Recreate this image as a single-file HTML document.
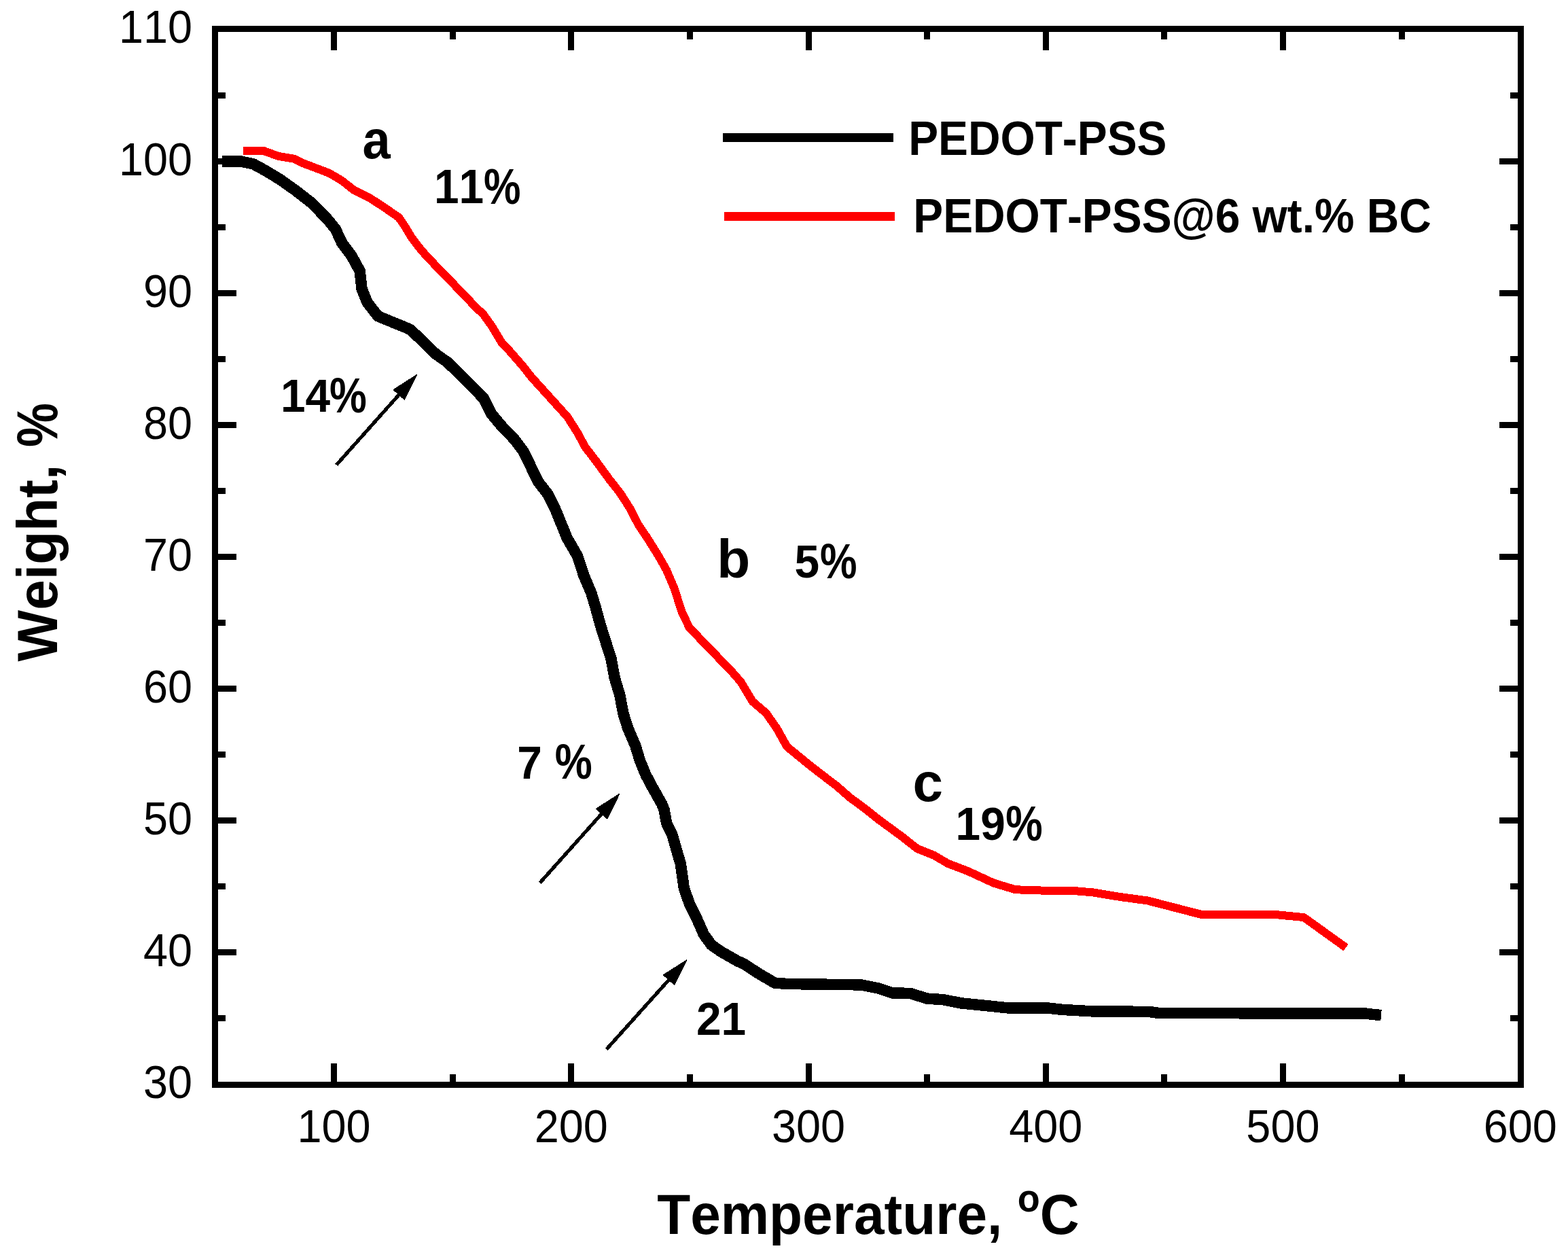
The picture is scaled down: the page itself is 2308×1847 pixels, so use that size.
<!DOCTYPE html><html><head><meta charset="utf-8"><title>TGA</title><style>html,body{margin:0;padding:0;background:#fff}svg{display:block}text{font-family:"Liberation Sans",sans-serif;font-kerning:none}</style></head><body>
<svg width="2308" height="1847" viewBox="0 0 2308 1847" shape-rendering="crispEdges">
<rect width="2308" height="1847" fill="#fff"/>
<polyline points="327.0,237.4 355.0,237.6 373.0,241.4 390.0,250.7 413.0,264.6 436.0,281.0 459.0,299.0 482.0,322.6 494.0,337.4 503.0,357.1 517.6,376.6 529.7,398.9 532.5,425.0 540.8,445.5 556.5,465.4 603.1,484.5 618.0,498.1 641.4,521.0 658.8,533.2 685.9,560.0 711.8,586.2 722.9,608.5 737.9,626.5 757.4,646.9 770.6,664.5 792.2,709.0 806.8,727.8 817.9,750.8 834.8,792.0 850.1,818.4 859.1,846.3 870.3,872.7 875.8,890.8 884.2,921.4 899.5,969.4 904.8,998.1 912.2,1022.4 917.3,1049.6 924.0,1071.1 932.3,1090.6 935.1,1096.9 942.1,1119.8 950.4,1140.0 958.1,1154.6 974.1,1183.1 977.6,1191.5 981.0,1211.0 989.4,1228.5 995.0,1248.0 1001.9,1271.7 1006.8,1307.1 1015.1,1330.8 1024.9,1350.3 1036.0,1375.3 1047.1,1390.6 1061.0,1400.3 1085.4,1414.3 1095.8,1419.1 1116.0,1432.3 1140.3,1446.6 1158.4,1448.0 1267.0,1449.4 1292.0,1454.3 1313.6,1461.5 1340.0,1461.9 1364.4,1469.6 1388.7,1471.2 1415.0,1476.4 1456.8,1480.6 1485.2,1483.6 1543.6,1483.7 1563.7,1485.9 1608.7,1488.4 1690.5,1488.9 1707.2,1491.1 2010.0,1491.5 2021.0,1493.0 2033.0,1494.0" fill="none" stroke="#000" stroke-width="16.5" stroke-linejoin="round" stroke-linecap="butt"/>
<polyline points="358.3,221.6 387.0,221.6 409.9,229.9 432.5,233.7 446.4,240.3 484.6,254.8 503.0,265.7 521.7,280.3 543.5,290.8 566.1,305.6 587.0,320.0 595.5,332.5 606.6,350.6 620.5,368.7 640.0,389.6 651.0,400.7 700.0,451.8 711.8,463.0 725.0,481.7 738.3,504.0 745.9,511.7 769.6,538.8 782.1,554.8 835.0,613.2 851.0,638.3 860.7,657.0 877.0,678.1 896.5,704.9 912.9,725.7 927.8,749.0 939.8,772.5 953.0,792.0 969.0,817.7 980.9,838.6 992.7,866.4 1003.8,901.2 1015.0,924.2 1033.0,942.6 1077.4,988.7 1090.4,1003.5 1107.8,1032.5 1127.8,1049.6 1143.5,1072.2 1158.3,1098.8 1194.5,1128.4 1232.1,1157.2 1250.0,1172.9 1275.3,1191.8 1291.9,1205.1 1326.5,1230.4 1349.9,1248.8 1375.0,1258.9 1395.1,1270.8 1425.0,1282.2 1462.6,1299.6 1492.5,1308.6 1510.6,1310.3 1580.8,1311.0 1608.6,1313.4 1649.0,1320.0 1689.3,1325.5 1767.9,1345.8 1877.5,1346.0 1919.2,1350.1 1981.1,1394.6" fill="none" stroke="#f00" stroke-width="12" stroke-linejoin="round" stroke-linecap="butt"/>
<rect x="316.5" y="42.5" width="1922" height="1554" fill="none" stroke="#000" stroke-width="9"/>
<path d="M491.5,1592V1565M491.5,47V74M666.1,1592V1581M666.1,47V58M840.7,1592V1565M840.7,47V74M1015.3,1592V1581M1015.3,47V58M1190.0,1592V1565M1190.0,47V74M1364.6,1592V1581M1364.6,47V58M1539.2,1592V1565M1539.2,47V74M1713.8,1592V1581M1713.8,47V58M1888.4,1592V1565M1888.4,47V74M2063.0,1592V1581M2063.0,47V58M321,1498.5H332M2234,1498.5H2223M321,1401.5H348M2234,1401.5H2207M321,1304.5H332M2234,1304.5H2223M321,1207.5H348M2234,1207.5H2207M321,1110.5H332M2234,1110.5H2223M321,1013.5H348M2234,1013.5H2207M321,916.5H332M2234,916.5H2223M321,819.5H348M2234,819.5H2207M321,722.5H332M2234,722.5H2223M321,625.5H348M2234,625.5H2207M321,528.5H332M2234,528.5H2223M321,431.5H348M2234,431.5H2207M321,334.5H332M2234,334.5H2223M321,237.5H348M2234,237.5H2207M321,140.5H332M2234,140.5H2223" stroke="#000" stroke-width="9" fill="none"/>
<text transform="translate(283.1 1616.4) scale(1 1.05)" font-size="64.8" text-anchor="end">30</text>
<text transform="translate(283.1 1422.3) scale(1 1.05)" font-size="64.8" text-anchor="end">40</text>
<text transform="translate(283.1 1228.2) scale(1 1.05)" font-size="64.8" text-anchor="end">50</text>
<text transform="translate(283.1 1034.0) scale(1 1.05)" font-size="64.8" text-anchor="end">60</text>
<text transform="translate(283.1 839.9) scale(1 1.05)" font-size="64.8" text-anchor="end">70</text>
<text transform="translate(283.1 645.8) scale(1 1.05)" font-size="64.8" text-anchor="end">80</text>
<text transform="translate(283.1 451.6) scale(1 1.05)" font-size="64.8" text-anchor="end">90</text>
<text transform="translate(283.1 257.5) scale(1 1.05)" font-size="64.8" text-anchor="end">100</text>
<text transform="translate(283.1 63.4) scale(1 1.05)" font-size="64.8" text-anchor="end">110</text>
<text transform="translate(491.5 1680.6) scale(1 1.05)" font-size="64.8" text-anchor="middle">100</text>
<text transform="translate(840.7 1680.6) scale(1 1.05)" font-size="64.8" text-anchor="middle">200</text>
<text transform="translate(1190.0 1680.6) scale(1 1.05)" font-size="64.8" text-anchor="middle">300</text>
<text transform="translate(1539.2 1680.6) scale(1 1.05)" font-size="64.8" text-anchor="middle">400</text>
<text transform="translate(1888.4 1680.6) scale(1 1.05)" font-size="64.8" text-anchor="middle">500</text>
<text transform="translate(2237.7 1680.6) scale(1 1.05)" font-size="64.8" text-anchor="middle">600</text>
<text transform="translate(967.2 1816) scale(1 1.051)" font-size="80.2" font-weight="bold">Temperature, <tspan x="530.6" y="-31.1" font-size="54">o</tspan><tspan x="563.5" y="0">C</tspan></text>
<text transform="translate(83.7 973.4) rotate(-90) scale(1.008 1.059)" font-size="79.6" font-weight="bold">Weight, <tspan x="312.9" y="0.5" font-size="81.2" textLength="64.5" lengthAdjust="spacingAndGlyphs">%</tspan></text>
<path d="M1063.9,202.5H1314.9" stroke="#000" stroke-width="13"/>
<path d="M1066,318.4H1317" stroke="#f00" stroke-width="13"/>
<text transform="translate(1337.2 228.1) scale(1 1.066)" font-size="65.8" font-weight="bold">PEDOT-PSS</text>
<text transform="translate(1344.3 342) scale(1 1.066)" font-size="65.8" font-weight="bold">PEDOT-PSS@6 wt.% BC</text>
<text transform="translate(533.5 233.1) scale(0.925 1.002)" font-size="80" font-weight="bold">a</text>
<text transform="translate(1055.3 849.9) scale(1.002 0.993)" font-size="80" font-weight="bold">b</text>
<text transform="translate(1343.5 1179.1) scale(1 1.000)" font-size="80" font-weight="bold">c</text>
<text transform="translate(639.0 299.0) scale(1 1.062)" font-size="65.8" font-weight="bold">11<tspan x="73.1" y="1.29" font-size="69.0" textLength="54.5" lengthAdjust="spacingAndGlyphs">%</tspan></text>
<text transform="translate(413.0 605.9) scale(1 1.035)" font-size="65.8" font-weight="bold">14<tspan x="71.9" y="1.24" font-size="69.1" textLength="54.8" lengthAdjust="spacingAndGlyphs">%</tspan></text>
<text transform="translate(1169.5 850.0) scale(1 1.036)" font-size="65.8" font-weight="bold">5<tspan x="37.6" y="1.02" font-size="70.4" textLength="54.5" lengthAdjust="spacingAndGlyphs">%</tspan></text>
<text transform="translate(761.2 1145.7) scale(1 1.050)" font-size="65.8" font-weight="bold">7 <tspan x="55.6" y="0.27" font-size="69.0" textLength="55.0" lengthAdjust="spacingAndGlyphs">%</tspan></text>
<text transform="translate(1406.6 1236.2) scale(1 1.049)" font-size="65.8" font-weight="bold">19<tspan x="73.6" y="0.82" font-size="69.5" textLength="54.4" lengthAdjust="spacingAndGlyphs">%</tspan></text>
<text transform="translate(1024.9 1522.8) scale(1 1.038)" font-size="65.8" font-weight="bold">21</text>
<path d="M495.2,684.2L588.7,579.3" stroke="#000" stroke-width="5.2"/>
<path d="M613.1,551.9L595.4,588.0L579.3,573.6Z" fill="#000" stroke="#000" stroke-width="1.5" stroke-linejoin="round"/>
<path d="M794.7,1299.3L887.1,1196.0" stroke="#000" stroke-width="5.2"/>
<path d="M911.6,1168.6L893.8,1204.7L877.7,1190.3Z" fill="#000" stroke="#000" stroke-width="1.5" stroke-linejoin="round"/>
<path d="M892.8,1544.1L986.0,1440.5" stroke="#000" stroke-width="5.2"/>
<path d="M1010.6,1413.2L992.7,1449.2L976.6,1434.8Z" fill="#000" stroke="#000" stroke-width="1.5" stroke-linejoin="round"/>
</svg></body></html>
